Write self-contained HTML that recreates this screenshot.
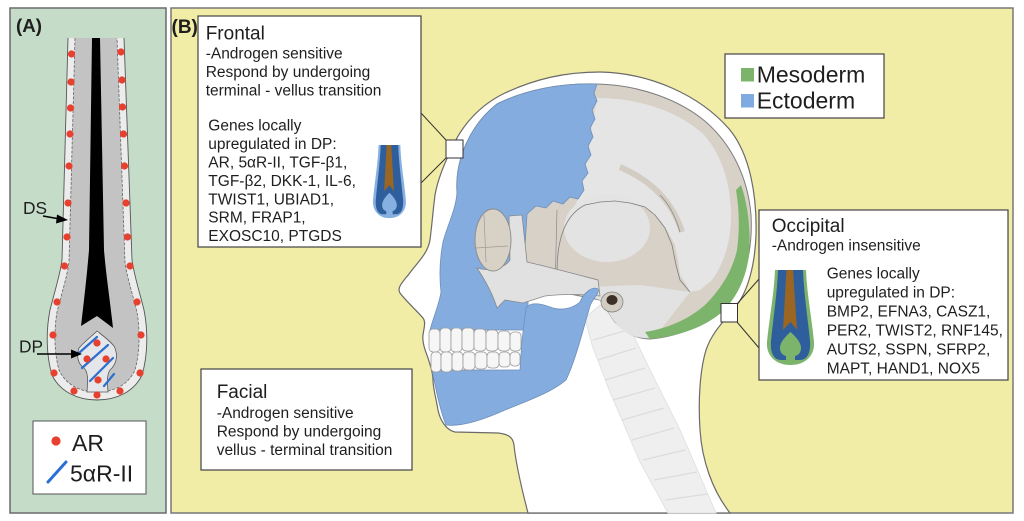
<!DOCTYPE html>
<html><head><meta charset="utf-8"><style>
html,body{margin:0;padding:0;background:#fff;width:1024px;height:521px;overflow:hidden}
svg{display:block}
text{font-family:"Liberation Sans",Arial,sans-serif;fill:#1e1e1e}
</style></head><body>
<svg width="1024" height="521" viewBox="0 0 1024 521" xmlns="http://www.w3.org/2000/svg">
<!-- Panel A -->
<rect x="10" y="8" width="156" height="505" fill="#c4dcc8" stroke="#6a6a6a" stroke-width="1.5"/>
<text x="16" y="32" font-size="18.7" font-weight="bold">(A)</text>
<!-- follicle -->
<path d="M68,38 L62,260 C60,275 55,290 50,310 C46,330 46,355 52,375 C60,392 78,400 97,400 C116,400 134,392 142,375 C148,355 148,330 144,310 C139,290 134,275 132,260 L124,38 Z" fill="#ececec" stroke="none"/>
<path d="M68,38 L62,260 C60,275 55,290 50,310 C46,330 46,355 52,375 C60,392 78,400 97,400 C116,400 134,392 142,375 C148,355 148,330 144,310 C139,290 134,275 132,260 L124,38" fill="none" stroke="#555" stroke-width="0.9"/>
<path d="M75,38 L69,262 C67,277 62,292 57,312 C54,330 54,352 59,370 C66,385 80,392 97,392 C114,392 128,385 135,370 C140,352 140,330 137,312 C132,292 127,277 125,262 L117,38 Z" fill="#c3c3c3" stroke="none"/>
<path d="M75,38 L69,262 C67,277 62,292 57,312 C54,330 54,352 59,370 C66,385 80,392 97,392 C114,392 128,385 135,370 C140,352 140,330 137,312 C132,292 127,277 125,262 L117,38" fill="none" stroke="#666" stroke-width="0.8" stroke-dasharray="3 1.5"/>
<path d="M92,38 L100,38 L104,250 C106,275 110,300 113,328 L97,316 L81,326 C84,300 87,275 89,250 Z" fill="#000"/>
<path d="M97,331 C92,336 84,342 79,348 C76,356 78,364 84,368 C88,372 88,378 87,392 L108,392 C107,378 107,372 112,368 C117,362 118,354 114,346 C109,340 102,335 97,331 Z" fill="#e4e6e9" stroke="#555" stroke-width="0.8"/>
<g stroke="#2d6fd0" stroke-width="2.2" stroke-linecap="round">
<line x1="79" y1="353" x2="97" y2="337"/>
<line x1="82" y1="368" x2="108" y2="345"/>
<line x1="90" y1="381" x2="113" y2="358"/>
<line x1="104" y1="386" x2="114" y2="374"/>
</g>
<g fill="#e8402e">
<circle cx="71.5" cy="54" r="3.6"/><circle cx="71" cy="82" r="3.6"/><circle cx="70.5" cy="108" r="3.6"/><circle cx="70" cy="134" r="3.6"/><circle cx="69" cy="166" r="3.6"/><circle cx="68" cy="203" r="3.6"/><circle cx="67" cy="237" r="3.6"/>
<circle cx="64.5" cy="266" r="3.6"/><circle cx="57" cy="302" r="3.6"/><circle cx="53" cy="335" r="3.6"/><circle cx="54" cy="373" r="3.6"/><circle cx="74" cy="391" r="3.6"/><circle cx="97" cy="395" r="3.6"/><circle cx="120" cy="391" r="3.6"/><circle cx="140" cy="373" r="3.6"/><circle cx="141" cy="335" r="3.6"/><circle cx="137" cy="302" r="3.6"/><circle cx="130" cy="266" r="3.6"/>
<circle cx="127.5" cy="237" r="3.6"/><circle cx="126" cy="203" r="3.6"/><circle cx="124.5" cy="166" r="3.6"/><circle cx="123.5" cy="134" r="3.6"/><circle cx="122.5" cy="107" r="3.6"/><circle cx="122" cy="80" r="3.6"/><circle cx="121" cy="52" r="3.6"/>
<circle cx="97" cy="343" r="3.6"/><circle cx="87" cy="359" r="3.6"/><circle cx="106" cy="359" r="3.6"/><circle cx="98" cy="380" r="3.6"/>
</g>
<text x="23" y="214" font-size="17.3">DS</text>
<line x1="43" y1="216" x2="60" y2="219" stroke="#000" stroke-width="1.6"/>
<path d="M68,220 L57,214.5 L56,223.5 Z" fill="#000"/>
<text x="19" y="352.5" font-size="17.3">DP</text>
<line x1="37" y1="354" x2="73" y2="354" stroke="#000" stroke-width="1.6"/>
<path d="M82,354 L71,349.5 L71,358.5 Z" fill="#000"/>
<rect x="33" y="421" width="113" height="73" fill="#fff" stroke="#555" stroke-width="1"/>
<circle cx="56" cy="441" r="4.6" fill="#e8402e"/>
<text x="72" y="451" font-size="23">AR</text>
<line x1="48" y1="482" x2="66" y2="462" stroke="#2a6fd5" stroke-width="3" stroke-linecap="round"/>
<text x="70" y="481.5" font-size="23">5αR-II</text>

<!-- Panel B -->
<rect x="171" y="8" width="842" height="505" fill="#f1eca6" stroke="#787878" stroke-width="1.5"/>

<!-- head silhouette -->
<path d="M528,513 C522,490 516,465 514,445 C513,437 508,434 498,433 L455,432 C446,430 440,420 438,410 C436,398 433,388 433,380 C433,372 430,365 428,358 C425,350 422,342 423,335 C424,328 426,322 423,318 C418,312 405,300 400,293 C396,287 405,280 412,270 C420,260 428,252 430,240 C432,225 433,210 435,195 C438,178 445,162 452,148 C462,125 480,105 505,93 C535,79 565,72 600,72 C650,73 700,95 730,130 C750,155 757,195 756,235 C755,265 748,290 737,305 C725,320 712,332 706,350 C700,370 698,400 700,430 C702,460 712,490 730,513 Z" fill="#fff" stroke="#6a6a6a" stroke-width="1.2"/>

<!-- spine -->
<path d="M585,318 L600,305 L625,318 L650,370 L680,430 L716,513 L668,513 L640,462 L610,392 L592,345 Z" fill="#efefef" stroke="#e2e2e2" stroke-width="1"/>
<g stroke="#dcdcdc" stroke-width="1.2" fill="none">
<path d="M593,340 L628,330"/><path d="M598,360 L636,348"/><path d="M605,380 L645,368"/><path d="M613,400 L655,388"/><path d="M622,420 L664,408"/><path d="M632,440 L674,428"/><path d="M643,460 L685,450"/><path d="M654,480 L697,472"/><path d="M665,500 L708,494"/>
</g>

<!-- cranium -->
<path d="M457,192 C455,160 470,125 497,104 C525,90 560,83 597,84 C640,85 680,100 706,122 C732,145 748,178 751,215 C753,250 745,282 727,304 C710,323 682,336 650,339 C635,339 625,332 615,322 L600,300 L560,292 L520,290 L490,280 L470,255 L458,225 Z" fill="#d8d1c7" stroke="#7e7e7e" stroke-width="1"/>
<path d="M597,98 C640,98 680,112 704,135 C722,155 731,185 731,215 C731,240 725,262 712,280 L700,290 L690,292 L686,284 L680,275 L678,260 L675,245 L668,232 L660,220 L650,210 L640,205 L625,202 L610,201 L595,203 L580,207 L572,212 L578,199 L583,180 L588,155 L592,125 Z" fill="#e5e5e5"/>
<ellipse cx="607" cy="228" rx="43" ry="34" fill="#e3e3e3"/>
<path d="M620,167 C650,180 672,200 682,232" fill="none" stroke="#d3ccc2" stroke-width="6"/>
<path d="M660,195 C670,205 676,218 680,232" fill="none" stroke="#8a8a8a" stroke-width="0.8"/>
<path d="M560,288 L640,285 L690,292 L662,328 L646,338 C630,338 620,330 612,318 L600,300 Z" fill="#e2e2e2"/>
<path d="M557,272 C557,240 565,215 585,205 L600,202 L615,201 L630,203 L645,207 L655,215 L665,228 L672,245 L676,265 L680,280 L690,292" fill="none" stroke="#7e7e7e" stroke-width="0.8"/>
<path d="M557,210 L555,290" fill="none" stroke="#8a8a8a" stroke-width="0.7"/>
<!-- occipital green -->
<path d="M741,185 C748,205 751,230 749,255 C746,280 735,300 722,312 C705,327 680,336 650,339 L645,332 C670,328 690,318 705,305 C720,290 732,272 737,250 C740,228 739,208 736,190 Z" fill="#7db46c"/>
<!-- ear -->
<ellipse cx="612" cy="302" rx="11" ry="10" fill="#d3ccc2" stroke="#7e7e7e" stroke-width="0.7"/>
<ellipse cx="612" cy="300" rx="5.5" ry="5" fill="#3a3028"/>

<!-- frontal + maxilla blue -->
<path d="M457,192 C455,160 470,125 497,104 C525,90 560,83 597,84 L594,93 L597,101 L592,110 L595,119 L590,128 L593,137 L588,146 L591,155 L585,164 L588,173 L582,181 L584,190 L578,199 L570,197 L563,204 L553,201 L546,208 L536,206 L527,214 L524,262 L528,300 L528,330 L430,330 C433,318 439,305 441,292 C439,275 440,258 443,242 C447,226 456,210 457,192 Z" fill="#84acdf" stroke="#6f8fb8" stroke-width="0.8"/>
<!-- zygomatic -->
<path d="M509,216 L522,215 L527,262 C545,266 575,274 598,280 L600,296 C585,294 560,294 545,296 L523,303 L505,300 L497,308 C493,295 485,280 477,268 C490,272 505,268 510,260 Z" fill="#e1e1e1" stroke="#888" stroke-width="0.8"/>
<!-- orbit -->
<ellipse cx="493" cy="240" rx="18" ry="31" fill="#d8d1c6" stroke="#8a8a8a" stroke-width="0.9"/>
<path d="M484,215 L486,262 M476,248 L508,246" stroke="#a09a92" stroke-width="0.7" fill="none"/>
<!-- mandible -->
<path d="M432,370 C436,390 440,410 446,425 C462,427 485,419 505,410 C530,400 552,392 566,380 C575,362 583,330 590,306 C593,298 600,293 598,289 C593,286 584,292 580,302 C572,309 560,311 550,307 C540,303 530,302 526,308 L522,340 L520,370 Z" fill="#84acdf" stroke="#6f8fb8" stroke-width="0.8"/>
<!-- teeth -->
<g fill="#f6f6f6" stroke="#9a9a9a" stroke-width="0.8">
<rect x="429" y="329" width="11" height="23" rx="4"/><rect x="440" y="328" width="11" height="24" rx="4"/><rect x="451" y="328" width="11" height="24" rx="4"/><rect x="462" y="328" width="12" height="23" rx="4"/><rect x="474" y="329" width="12" height="22" rx="4"/><rect x="486" y="330" width="12" height="21" rx="4"/><rect x="498" y="331" width="12" height="20" rx="4"/><rect x="510" y="332" width="11" height="19" rx="4"/>
<rect x="431" y="352" width="10" height="20" rx="4"/><rect x="441" y="352" width="11" height="20" rx="4"/><rect x="452" y="352" width="11" height="19" rx="4"/><rect x="463" y="352" width="12" height="18" rx="4"/><rect x="475" y="352" width="12" height="17" rx="4"/><rect x="487" y="352" width="12" height="16" rx="4"/><rect x="499" y="352" width="11" height="15" rx="4"/><rect x="510" y="352" width="10" height="14" rx="4"/>
</g>

<!-- frontal connectors -->
<line x1="421" y1="113" x2="446" y2="140" stroke="#333" stroke-width="1"/>
<line x1="421" y1="183" x2="446" y2="158" stroke="#333" stroke-width="1"/>
<rect x="446" y="140" width="17" height="18" fill="#fff" stroke="#333" stroke-width="1"/>
<!-- occipital connectors -->
<line x1="759" y1="279" x2="737" y2="304" stroke="#333" stroke-width="1"/>
<line x1="759" y1="348" x2="737" y2="322" stroke="#333" stroke-width="1"/>
<rect x="721" y="303.5" width="16.5" height="18.5" fill="#fff" stroke="#333" stroke-width="1"/>

<!-- Frontal box -->
<rect x="198" y="16" width="223" height="231" fill="#fff" stroke="#444" stroke-width="1.2"/>
<text x="171.5" y="33" font-size="19" font-weight="bold">(B)</text>
<text x="205.7" y="39.5" font-size="19">Frontal</text>
<g font-size="15.5">
<text x="205.7" y="58.5">-Androgen sensitive</text>
<text x="205.7" y="77">Respond by undergoing</text>
<text x="205.7" y="95.5">terminal - vellus transition</text>
<text x="208.3" y="130.7">Genes locally</text>
<text x="208.3" y="149">upregulated in DP:</text>
<text x="208.3" y="167.5">AR, 5αR-II, TGF-β1,</text>
<text x="208.3" y="186">TGF-β2, DKK-1, IL-6,</text>
<text x="208.3" y="204.3">TWIST1, UBIAD1,</text>
<text x="208.3" y="222.7">SRM, FRAP1,</text>
<text x="208.3" y="241">EXOSC10, PTGDS</text>
</g>
<!-- frontal follicle icon -->
<g transform="translate(373,145) scale(0.70,0.77)">
<path d="M8,0 L39,0 C40,25 45,50 47,72 C48,86 38,95 23.5,95 C9,95 -1,86 0,72 C2,50 7,25 8,0 Z" fill="#86b0e2"/>
<path d="M11,0 L36,0 C37,25 41,50 43,71 C44,83 40,90 33,90 L28,90 L28,86 C32,85 34,82 34,78 C34,72 28,66 23.5,62 C19,66 13,72 13,78 C13,82 15,85 19,86 L19,90 L14,90 C7,90 3,83 4,71 C6,50 10,25 11,0 Z" fill="#2f5e9c"/>
<path d="M19.5,0 L26,0 L30,60 L23.5,52 L16,60 Z" fill="#9b6522"/>
</g>

<!-- Legend -->
<rect x="725" y="54" width="159" height="64" fill="#fff" stroke="#444" stroke-width="1.2"/>
<rect x="741" y="68" width="13" height="13.5" fill="#7db46c"/>
<rect x="741" y="94" width="13" height="13.5" fill="#7fabe0"/>
<text x="756.7" y="82.5" font-size="23">Mesoderm</text>
<text x="756.7" y="108.5" font-size="23">Ectoderm</text>

<!-- Occipital box -->
<rect x="759" y="210" width="249" height="170" fill="#fff" stroke="#444" stroke-width="1.2"/>
<text x="771.7" y="232" font-size="19">Occipital</text>
<g font-size="15.5">
<text x="771.7" y="250.5">-Androgen insensitive</text>
<text x="826.7" y="278.5">Genes locally</text>
<text x="826.7" y="297.5">upregulated in DP:</text>
<text x="826.7" y="316.5">BMP2, EFNA3, CASZ1,</text>
<text x="826.7" y="335.5">PER2, TWIST2, RNF145,</text>
<text x="826.7" y="354.5">AUTS2, SSPN, SFRP2,</text>
<text x="826.7" y="373.5">MAPT, HAND1, NOX5</text>
</g>
<g transform="translate(767,270)">
<path d="M8,0 L39,0 C40,25 45,50 47,72 C48,86 38,95 23.5,95 C9,95 -1,86 0,72 C2,50 7,25 8,0 Z" fill="#7db46c"/>
<path d="M11,0 L36,0 C37,25 41,50 43,71 C44,83 40,90 33,90 L28,90 L28,86 C32,85 34,82 34,78 C34,72 28,66 23.5,62 C19,66 13,72 13,78 C13,82 15,85 19,86 L19,90 L14,90 C7,90 3,83 4,71 C6,50 10,25 11,0 Z" fill="#2f5e9c"/>
<path d="M19.5,0 L26,0 L30,60 L23.5,52 L16,60 Z" fill="#9b6522"/>
</g>

<!-- Facial box -->
<rect x="201" y="369" width="211" height="101" fill="#fff" stroke="#444" stroke-width="1.2"/>
<text x="216.7" y="398" font-size="19">Facial</text>
<g font-size="15.5">
<text x="216.7" y="418">-Androgen sensitive</text>
<text x="216.7" y="436.5">Respond by undergoing</text>
<text x="216.7" y="455">vellus - terminal transition</text>
</g>
</svg>
</body></html>
